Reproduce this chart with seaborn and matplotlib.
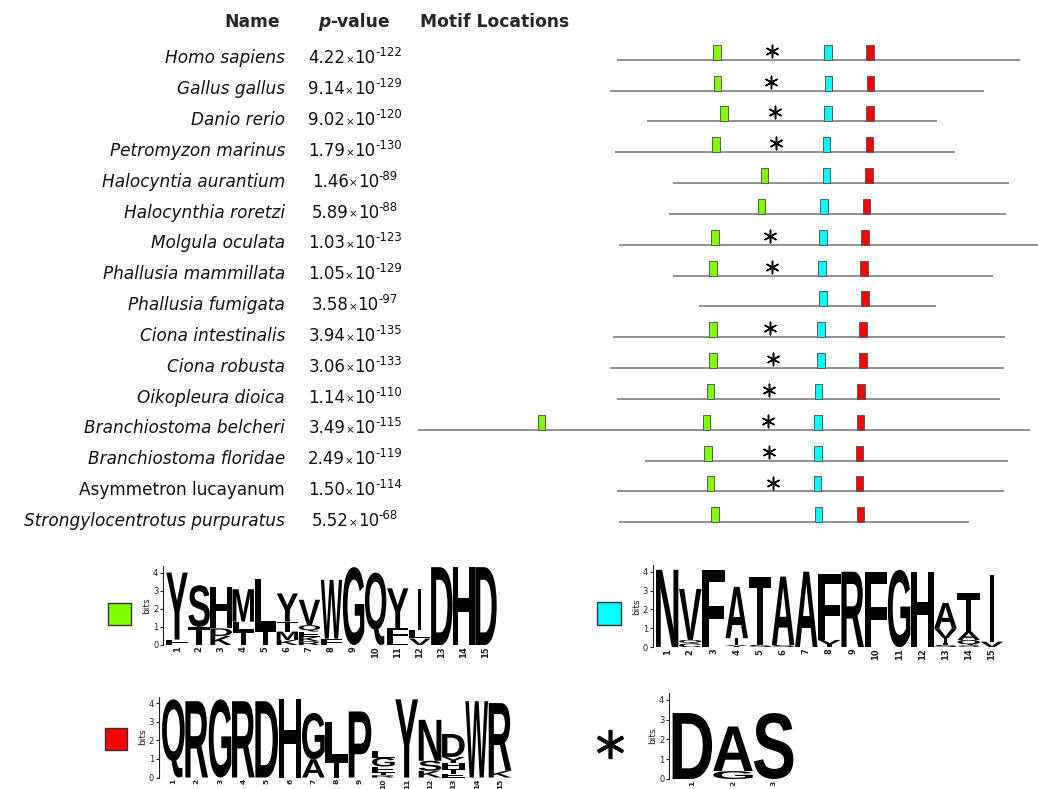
import numpy as np
import pandas as pd
import matplotlib
matplotlib.use("Agg")
import matplotlib.pyplot as plt
import seaborn as sns
from matplotlib.textpath import TextPath
from matplotlib.patches import PathPatch, Rectangle
from matplotlib.lines import Line2D
from matplotlib.font_manager import FontProperties
from matplotlib.transforms import Affine2D, blended_transform_factory

# ---- data: MEME motif locations (approximate residue positions) ----
species = ["Homo sapiens", "Gallus gallus", "Danio rerio", "Petromyzon marinus",
           "Halocyntia aurantium", "Halocynthia roretzi", "Molgula oculata",
           "Phallusia mammillata", "Phallusia fumigata", "Ciona intestinalis",
           "Ciona robusta", "Oikopleura dioica", "Branchiostoma belcheri",
           "Branchiostoma floridae", "Asymmetron lucayanum",
           "Strongylocentrotus purpuratus"]
italic_name = [True] * 14 + [False, True]
pval_mant = ["4.22", "9.14", "9.02", "1.79", "1.46", "5.89", "1.03", "1.05",
             "3.58", "3.94", "3.06", "1.14", "3.49", "2.49", "1.50", "5.52"]
pval_exp = [122, 129, 120, 130, 89, 88, 123, 129, 97, 135, 133, 110, 115, 119, 114, 68]

seq_start = [397, 384, 457, 393, 509, 501, 401, 509, 561, 389, 384, 397, 0, 453, 397, 401]
seq_end = [1203, 1131, 1037, 1073, 1181, 1176, 1239, 1150, 1035, 1173, 1172, 1163, 1223, 1179, 1172, 1101]
green_sites = [[597], [598], [611], [595], [692], [686], [593], [589], [], [589],
               [589], [584], [246, 576], [579], [584], [593]]
star_site = [707, 706, 713, 715, np.nan, np.nan, 704, 707, np.nan, 704, 709, 702,
             699, 702, 710, np.nan]
cyan_site = [819, 820, 819, 816, 816, 811, 809, 807, 809, 805, 805, 800, 799, 799, 798, 800]
red_site = [903, 904, 903, 902, 901, 896, 893, 891, 893, 889, 889, 885, 884, 882, 882, 884]

# ---- data: sequence logos, letter stacks bottom -> top, heights in bits ----
logo_green = [
    [("F", 0.12), ("L", 0.18), ("Y", 3.7)],
    [("T", 1.0), ("S", 2.3)],
    [("K", 0.5), ("D", 0.42), ("H", 2.28)],
    [("T", 0.8), ("L", 0.49), ("M", 1.79)],
    [("T", 0.87), ("L", 2.76)],
    [("K", 0.28), ("M", 0.46), ("T", 0.55), ("Y", 1.56)],
    [("R", 0.2), ("K", 0.25), ("E", 0.29), ("Q", 0.36), ("V", 1.4)],
    [("F", 0.35), ("W", 3.25)],
    [("G", 4.3)],
    [("Q", 4.0)],
    [("L", 0.28), ("F", 0.64), ("Y", 2.21)],
    [("V", 0.36), ("L", 0.46), ("I", 2.28)],
    [("D", 4.3)],
    [("H", 4.3)],
    [("D", 4.3)],
]
logo_cyan = [
    [("N", 4.1)],
    [("C", 0.2), ("Q", 0.19), ("V", 2.7)],
    [("F", 4.1)],
    [("Y", 0.12), ("I", 0.36), ("A", 2.72)],
    [("S", 0.12), ("T", 3.62)],
    [("S", 0.12), ("A", 3.62)],
    [("A", 4.0)],
    [("Y", 0.39), ("F", 3.5)],
    [("R", 4.0)],
    [("F", 4.0)],
    [("G", 4.1)],
    [("H", 4.0)],
    [("S", 0.12), ("T", 0.1), ("I", 0.26), ("V", 0.52), ("A", 1.35)],
    [("S", 0.1), ("Q", 0.29), ("A", 0.44), ("T", 2.02)],
    [("V", 0.3), ("I", 3.52)],
]
logo_red = [
    [("Q", 4.2)],
    [("R", 4.1)],
    [("G", 4.2)],
    [("R", 4.1)],
    [("D", 4.1)],
    [("H", 4.2)],
    [("A", 0.98), ("G", 2.49)],
    [("T", 0.9), ("L", 2.1)],
    [("P", 3.55)],
    [("R", 0.12), ("T", 0.15), ("E", 0.32), ("G", 0.48), ("L", 0.35)],
    [("Y", 4.2)],
    [("K", 0.36), ("S", 0.54), ("N", 2.2)],
    [("E", 0.2), ("T", 0.27), ("H", 0.31), ("Y", 0.32), ("D", 1.24)],
    [("W", 4.1)],
    [("K", 0.36), ("R", 3.64)],
]
logo_star = [
    [("D", 3.33)],
    [("G", 0.4), ("A", 2.25)],
    [("S", 3.33)],
]

GREEN, CYAN, RED = "#80ff00", "#00ffff", "#ff0000"

sns.set_theme(style="white")
plt.rcParams["font.family"] = ["DejaVu Sans"]

W, H = 1038, 789
fig = plt.figure(figsize=(W / 100, H / 100), dpi=100)
renderer = fig.canvas.get_renderer()


def px_axes(x0, x1, ytop, ybot):
    return fig.add_axes([x0 / W, 1 - ybot / H, (x1 - x0) / W, (ybot - ytop) / H])


# ---- motif location diagram ----
ax = px_axes(400, 1038, 0, 540)
ax.set_xlim(-36.8, 1239.2)
ax.set_ylim(15.574, -1.936)
ax.axis("off")

rows = np.arange(len(species))
ax.hlines(rows, seq_start, seq_end, color="#909090", lw=1.4, zorder=1)

bar_h = 0.486
g_rows = [r for r, sites in zip(rows, green_sites) for _ in sites]
g_pos = [p for sites in green_sites for p in sites]
ax.bar(g_pos, bar_h, width=15, bottom=np.array(g_rows) - bar_h,
       color=GREEN, edgecolor="#5a5a5a", linewidth=0.7, zorder=2)
ax.bar(cyan_site, bar_h, width=15, bottom=rows - bar_h,
       color=CYAN, edgecolor="#5a5a5a", linewidth=0.7, zorder=2)
ax.bar(red_site, bar_h, width=15, bottom=rows - bar_h,
       color=RED, edgecolor="#5a5a5a", linewidth=0.7, zorder=2)

star_df = pd.DataFrame({"pos": star_site, "row": rows - 0.29}).dropna()
sns.scatterplot(data=star_df, x="pos", y="row", marker=(6, 2, 0), s=80,
                color="black", linewidth=1.1, ax=ax, legend=False, zorder=3)

trans = blended_transform_factory(fig.transFigure, ax.transData)
fp_main = FontProperties(family="DejaVu Sans", size=12)
fp_times = FontProperties(family="DejaVu Sans", size=7.5)
fp_sup = FontProperties(family="DejaVu Sans", size=8.5)


def text_w(s, fp):
    return renderer.get_text_width_height_descent(s, fp, ismath=False)[0]


for i, name in enumerate(species):
    ax.text(285 / W, i + 0.12, name, transform=trans, ha="right", va="baseline",
            fontsize=12.2, style="italic" if italic_name[i] else "normal", color="#111111")
    # p-value: mantissa, small times sign, 10 and raised exponent
    pieces = [(pval_mant[i], fp_main, 0.0), ("\u00d7", fp_times, 0.0),
              ("10", fp_main, 0.0), ("-%d" % pval_exp[i], fp_sup, 0.23)]
    total = sum(text_w(s, fp) for s, fp, _ in pieces)
    x = 355 - total / 2
    for s, fp, raise_ in pieces:
        ax.text(x / W, i + 0.12 - raise_, s, transform=trans, ha="left", va="baseline",
                fontproperties=fp, color="#111111")
        x += text_w(s, fp)

fig.text(252 / W, 1 - 27.3 / H, "Name", ha="center", va="baseline",
         fontsize=12.3, fontweight="bold")
fig.text(330.5 / W, 1 - 27.3 / H, "p", ha="right", va="baseline",
         fontsize=12.3, fontweight="bold", style="italic")
fig.text(330.5 / W, 1 - 27.3 / H, "-value", ha="left", va="baseline",
         fontsize=12.3, fontweight="bold")
fig.text(419.5 / W, 1 - 27.3 / H, "Motif Locations", ha="left", va="baseline",
         fontsize=12.3, fontweight="bold")

# ---- sequence logos ----
LOGO_FONT = FontProperties(family="Liberation Sans", weight="bold")


def draw_logo(ax, cols, ymax, pos_fs=6):
    for i, stack in enumerate(cols, start=1):
        y = 0.0
        for ch, h in stack:
            tp = TextPath((0, 0), ch, size=1, prop=LOGO_FONT)
            bb = tp.get_extents()
            w = 0.15 if ch == "I" else 0.97
            tr = (Affine2D().translate(-bb.x0, -bb.y0)
                  .scale(w / bb.width, h / bb.height)
                  .translate(i - w / 2, y))
            ax.add_patch(PathPatch(tr.transform_path(tp), fc="black", ec="none", lw=0))
            y += h
    ax.set_xlim(0.5, len(cols) + 0.5)
    ax.set_ylim(0, ymax)
    ax.set_yticks(range(5))
    ax.set_xticks(range(1, len(cols) + 1))
    ax.set_xticklabels([str(k) for k in range(1, len(cols) + 1)], rotation=90,
                       fontsize=pos_fs, fontweight="bold", color="#222222")
    ax.tick_params(axis="y", left=True, length=2.5, width=0.8, pad=1,
                   labelsize=6, colors="#222222")
    ax.tick_params(axis="x", bottom=False, length=0, pad=1.0)
    for s in ["top", "right", "bottom"]:
        ax.spines[s].set_visible(False)
    ax.spines["left"].set_position(("outward", 2))
    ax.spines["left"].set_color("#222222")
    ax.spines["left"].set_linewidth(0.8)
    ax.set_ylabel("bits", fontsize=6.5, labelpad=1, color="#222222")
    ax.set_facecolor("none")


ymax = 4.35
draw_logo(px_axes(166, 497, 645 - ymax * 18.1, 645), logo_green, ymax)
draw_logo(px_axes(655.5, 1003.5, 647.3 - ymax * 18.9, 647.3), logo_cyan, ymax)
draw_logo(px_axes(161.7, 511.7, 777.5 - ymax * 18.6, 777.5), logo_red, ymax, pos_fs=5.4)
draw_logo(px_axes(672, 794, 779 - ymax * 19.8, 779), logo_star, ymax, pos_fs=5.4)

# legend keys for the logos
for (x0, y0, x1, y1), col in [((107.7, 602.7, 131, 625), GREEN),
                              ((597, 602, 621, 625), CYAN),
                              ((105, 727.7, 127.3, 750), RED)]:
    fig.add_artist(Rectangle((x0 / W, 1 - y1 / H), (x1 - x0) / W, (y1 - y0) / H,
                             transform=fig.transFigure, fc=col, ec="#333333", lw=1))
fig.add_artist(Line2D([610 / W], [1 - 744 / H], marker=(6, 2, 0), markersize=21,
                      markeredgewidth=2.6, color="black", transform=fig.transFigure))

fig.savefig("out.png", dpi=100)
